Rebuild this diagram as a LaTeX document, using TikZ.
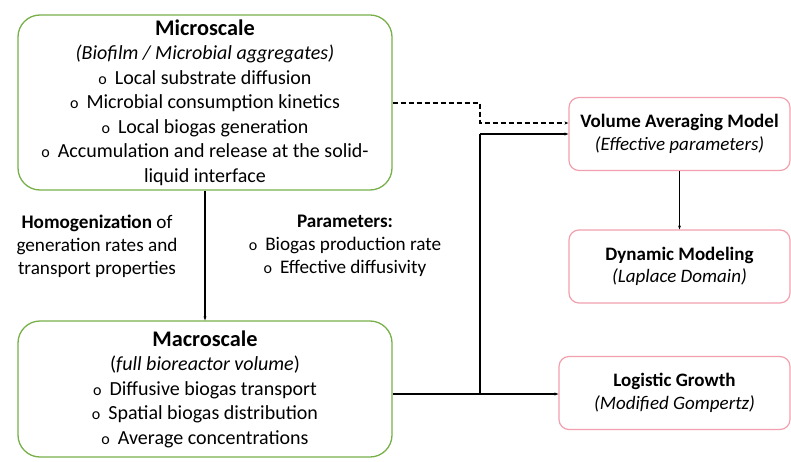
\documentclass[tikz,border=0pt]{standalone}
\usepackage{fontspec}
\setmainfont{Carlito}
\usetikzlibrary{arrows.meta}
\definecolor{boxgreen}{HTML}{78B04A}
\definecolor{boxpink}{HTML}{F2A0AE}
\newcommand{\bul}{{\fontsize{16}{16}\selectfont o}\hspace{8pt}}
\tikzset{
  greenbox/.style={draw=boxgreen, line width=1.3pt, rounded corners=22pt, align=center, inner sep=0pt,
    font=\fontsize{20}{24.5}\selectfont},
  pinkbox/.style={draw=boxpink, line width=1.2pt, rounded corners=10pt, align=center, inner sep=0pt,
    font=\fontsize{19}{22.5}\selectfont, minimum height=73pt},
  lbl/.style={align=center, font=\fontsize{19.2}{23}\selectfont, inner sep=0pt},
  conn/.style={line width=1.3pt, -{Stealth[length=4pt,width=3pt]}},
}
\begin{document}
\begin{tikzpicture}[x=1pt,y=-1pt]
\useasboundingbox (0,0) rectangle (791,462);
\node[greenbox, minimum width=374pt, minimum height=175pt] (micro) at (205,102.5)
 {{\fontsize{22.3}{24.5}\selectfont\bfseries Microscale}\\
  \textit{(Biofilm / Microbial aggregates)}\\
  \bul Local substrate diffusion\\
  \bul Microbial consumption kinetics\\
  \bul Local biogas generation\\
  \bul Accumulation and release at the solid-\\
  liquid interface};
\node[greenbox, minimum width=374pt, minimum height=136pt] (macro) at (205,389)
 {{\fontsize{22.3}{24.5}\selectfont\bfseries Macroscale}\\
  (\textit{full bioreactor volume})\\
  \bul Diffusive biogas transport\\
  \bul Spatial biogas distribution\\
  \bul Average concentrations};
\node[lbl] (homog) at (97,246)
 {\textbf{Homogenization} of\\ generation rates and\\ transport properties};
\node[lbl] (params) at (345,246)
 {\textbf{Parameters:}\\ \bul Biogas production rate\\ \bul Effective diffusivity};
\node[pinkbox, minimum width=221pt] (vam) at (679.5,134)
 {\textbf{Volume Averaging Model}\\ \textit{(Effective parameters)}};
\node[pinkbox, minimum width=221pt] (dyn) at (679.5,266.5)
 {\textbf{Dynamic Modeling}\\ \textit{(Laplace Domain)}};
\node[pinkbox, minimum width=231pt] (log) at (674.5,393)
 {\textbf{Logistic Growth}\\ \textit{(Modified Gompertz)}};
\coordinate (j1) at (480,103);
\coordinate (j2) at (480,123);
\coordinate (j3) at (480,394);
\coordinate (j4) at (480,134);
\draw[conn] (micro.south) -- (macro.north);
\draw[conn, dashed, dash pattern=on 5pt off 3pt] (micro.east |- j1) -- (j1) -- (j2) -- (vam.west |- j2);
\draw[conn] (macro.east |- j3) -- (log.west |- j3);
\draw[line width=1.3pt] (j3) -- (j4);
\draw[conn] (j4) -- (vam.west |- j4);
\draw[conn] (vam.south) -- (dyn.north);
\end{tikzpicture}
\end{document}
